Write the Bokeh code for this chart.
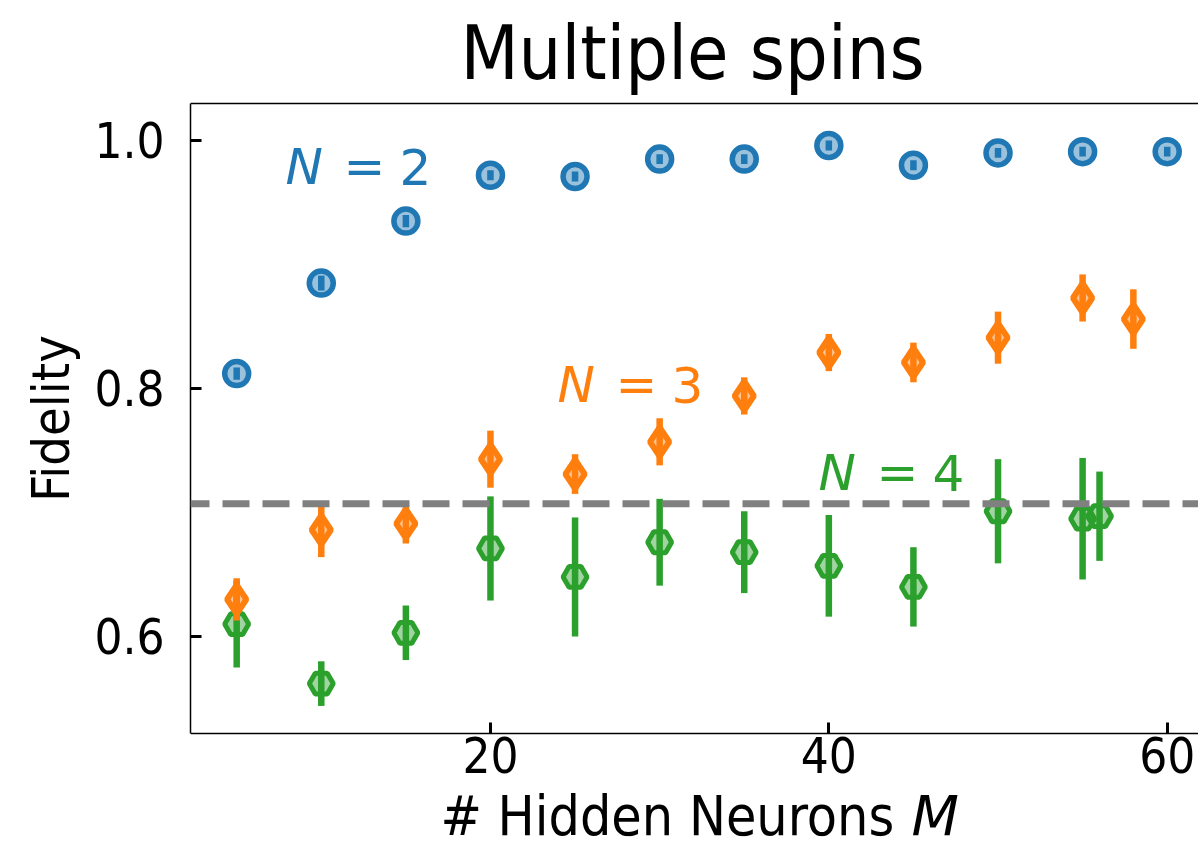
from bokeh.plotting import figure
from bokeh.models import Range1d, FixedTicker, PrintfTickFormatter, Span, Label, ColumnDataSource
from bokeh.embed import file_html
from bokeh.resources import INLINE

# ---------------- data ----------------
M_n2 = [5, 10, 15, 20, 25, 30, 35, 40, 45, 50, 55, 60]
F_n2 = [0.812, 0.885, 0.935, 0.972, 0.971, 0.985, 0.985, 0.996, 0.980, 0.990, 0.991, 0.991]
E_n2 = [0.005, 0.006, 0.005, 0.004, 0.004, 0.004, 0.004, 0.004, 0.004, 0.004, 0.004, 0.004]

M_n3 = [5, 10, 15, 20, 25, 30, 35, 40, 45, 50, 55, 58]
F_n3 = [0.630, 0.686, 0.691, 0.743, 0.731, 0.757, 0.794, 0.829, 0.821, 0.841, 0.873, 0.856]
E_n3 = [0.017, 0.022, 0.016, 0.023, 0.016, 0.019, 0.015, 0.015, 0.016, 0.021, 0.019, 0.024]

M_n4 = [5, 10, 15, 20, 25, 30, 35, 40, 45, 50, 55, 56]
F_n4 = [0.610, 0.562, 0.603, 0.671, 0.648, 0.676, 0.668, 0.657, 0.640, 0.701, 0.695, 0.697]
E_n4 = [0.035, 0.018, 0.022, 0.042, 0.048, 0.035, 0.033, 0.041, 0.032, 0.042, 0.049, 0.036]

threshold = 0.7071  # 1/sqrt(2)

x_ticks = [20, 40, 60]
y_ticks = [0.6, 0.8, 1.0]

BLUE, ORANGE, GREEN = "#1f77b4", "#ff7f0e", "#2ca02c"
FONT = "DejaVu Sans"
FONT_C = "DejaVu Sans Condensed"

X0, X1 = 2.27, 61.85
Y_AX0, Y_AX1 = 0.5218, 1.0298       # visible axes box (bottom spine, top spine)
Y_VIEW0, Y_VIEW1 = 0.43871, 1.11290  # data extent of the drawing area (incl. title/label room)

p = figure(width=1198, height=849, output_backend="svg", toolbar_location=None, title=None,
           x_range=Range1d(X0, X1), y_range=Range1d(Y_VIEW0, Y_VIEW1),
           min_border_left=190, min_border_right=0, min_border_top=0, min_border_bottom=13,
           background_fill_color="white", border_fill_color="white")

p.outline_line_color = None
p.xgrid.visible = False
p.ygrid.visible = False

for ax in (p.xaxis[0], p.yaxis[0]):
    ax.axis_line_color = "black"
    ax.axis_line_width = 1.5
    ax.major_tick_in = 11
    ax.major_tick_out = 0
    ax.major_tick_line_width = 3
    ax.major_tick_line_color = "black"
    ax.minor_tick_line_color = None
    ax.major_label_text_font = FONT_C
    ax.major_label_text_font_size = "49px"
    ax.major_label_text_color = "black"

p.xaxis.fixed_location = Y_AX0
p.yaxis.bounds = (Y_AX0, Y_AX1)

p.xaxis.ticker = FixedTicker(ticks=x_ticks)
p.yaxis.ticker = FixedTicker(ticks=y_ticks)
p.xaxis.formatter = PrintfTickFormatter(format="%d")
p.yaxis.formatter = PrintfTickFormatter(format="%.1f")
p.xaxis.major_label_standoff = 4
p.yaxis.major_label_standoff = 26

p.yaxis.axis_label = "Fidelity"
p.yaxis.axis_label_text_font = FONT_C
p.yaxis.axis_label_text_font_size = "52px"
p.yaxis.axis_label_text_font_style = "normal"
p.yaxis.axis_label_text_color = "black"
p.yaxis.axis_label_standoff = 10

# top spine
p.add_layout(Span(location=Y_AX1, dimension="width", line_color="black", line_width=1.5))

# threshold dashed line
p.add_layout(Span(location=threshold, dimension="width", line_color="#808080",
                  line_width=7, line_dash="27 13", line_dash_offset=8))

series = [
    (M_n4, F_n4, E_n4, GREEN, "hex", 24, 5),
    (M_n3, F_n3, E_n3, ORANGE, "diamond", 29, 6),
    (M_n2, F_n2, E_n2, BLUE, "circle", 24, 5.5),
]
for xs, ys, es, col, mk, sz, lw in series:
    src = ColumnDataSource(dict(x=xs, y=ys,
                                lo=[a - b for a, b in zip(ys, es)],
                                hi=[a + b for a, b in zip(ys, es)]))
    p.segment(x0="x", y0="lo", x1="x", y1="hi", source=src, line_color=col, line_width=6.5)
    p.scatter(x="x", y="y", source=src, marker=mk, size=sz, line_color=col, line_width=lw,
              fill_color=col, fill_alpha=0.45)

# title (placed above the axes box)
p.add_layout(Label(x=31.94, y=1.0702, text="Multiple spins", text_font=FONT_C,
                   text_font_size="75px", text_color="black", text_baseline="alphabetic",
                   text_align="center"))

# annotations N = 2,3,4
ann = [(7.88, 0.979, "2", BLUE), (23.96, 0.803, "3", ORANGE), (39.39, 0.732, "4", GREEN)]
for ax_, ay_, num, col in ann:
    p.add_layout(Label(x=ax_, y=ay_, text="N", text_font=FONT, text_font_size="50px",
                       text_font_style="italic", text_color=col, text_baseline="alphabetic",
                       text_align="left"))
    p.add_layout(Label(x=ax_, y=ay_, x_offset=58, text="=", text_font=FONT,
                       text_font_size="50px", text_color=col, text_baseline="alphabetic",
                       text_align="left"))
    p.add_layout(Label(x=ax_, y=ay_, x_offset=114, text=num, text_font=FONT,
                       text_font_size="50px", text_color=col, text_baseline="alphabetic",
                       text_align="left"))

# x axis label with italic M
XL_X, XL_Y = 17.04, 0.455
p.add_layout(Label(x=XL_X, y=XL_Y, text="# Hidden Neurons ", text_font=FONT_C,
                   text_font_size="55px", text_color="black", text_baseline="alphabetic",
                   text_align="left"))
p.add_layout(Label(x=XL_X, y=XL_Y, x_offset=471, text="M", text_font=FONT,
                   text_font_size="55px", text_font_style="italic", text_color="black",
                   text_baseline="alphabetic", text_align="left"))

open("out.html", "w").write(file_html(p, INLINE))
